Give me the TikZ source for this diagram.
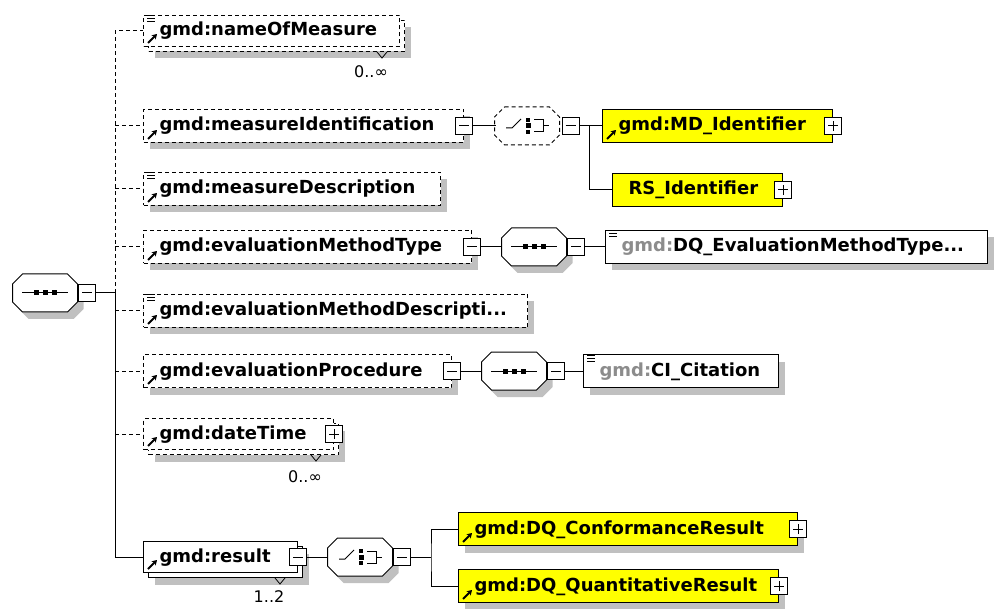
\documentclass[tikz,border=0pt]{standalone}
\usepackage{fontspec}
\setmainfont{DejaVu Sans}
\usepackage{tikz}
\usetikzlibrary{arrows.meta}
\usetikzlibrary{calc}
\usetikzlibrary{shadows}
\definecolor{shadowgray}{RGB}{192,192,192}
\definecolor{typegray}{RGB}{140,140,140}
\definecolor{elemyellow}{RGB}{255,255,0}
\newcommand{\gmdtype}{\textcolor{typegray}{gmd:}}
\newcommand{\refarrow}[1]{\draw[line width=1.8pt, -{Stealth[length=5pt,width=6pt]}] ([shift={(5,-4)}]#1.south west) -- ++(9,-9);}
\newcommand{\texticon}[1]{\foreach \yy in {1,4,7} {\draw[line width=1pt] ([shift={(4,\yy)}]#1.north west) -- ++(8,0);}}
\newcommand{\multnotch}[1]{\draw[line width=0.8pt] ([shift={(-28,0)}]#1.south east) -- ++(5,6) -- ++(5,-6);}
\newcommand{\compoct}[2][]{\draw[fill=white, #1] ([shift={(-22.5,-19)}]#2.center) -- ++(45,0) -- ++(10,10) -- ++(0,18) -- ++(-10,10) -- ++(-45,0) -- ++(-10,-10) -- ++(0,-18) -- cycle;}
\newcommand{\seqmark}[1]{%
    \draw ([shift={(-23,0)}]#1.center) -- ++(46,0);
    \foreach \xx in {-9,0,9} {\fill[black] ([shift={(\xx,0)}]#1.center) +(-2.5,-2.5) rectangle +(2.5,2.5);}}
\newcommand{\choicemark}[1]{%
    \draw ([shift={(-21,2)}]#1.center) -- ++(6,0) -- ++(9,-9);
    \fill[black] ([shift={(1,-6)}]#1.center) +(-2,-2) rectangle +(2,2);
    \fill[black] ([shift={(1,0)}]#1.center) +(-2.5,-2.5) rectangle +(2.5,2.5);
    \fill[black] ([shift={(1,6)}]#1.center) +(-2,-2) rectangle +(2,2);
    \draw ([shift={(7,-6)}]#1.center) -- ++(9,0) -- ++(0,12) -- ++(-9,0);
    \draw ([shift={(16,0)}]#1.center) -- ++(6,0);}

\tikzset{
    elem/.style={draw, fill=white, anchor=west, minimum height=33pt,
        inner xsep=16pt, inner ysep=0pt, text height=14pt, text depth=4pt, align=left,
        font=\fontsize{18pt}{20pt}\selectfont\bfseries},
    optelem/.style={elem, dash pattern=on 4pt off 3pt},
    stacked/.style={minimum height=31pt},
    typebox/.style={elem},
    yellowbox/.style={elem, fill=elemyellow},
    boxshadow/.style={drop shadow={shadow xshift=6pt, shadow yshift=-7pt, fill=shadowgray, opacity=1}},
    optline/.style={dash pattern=on 4pt off 3pt},
    comp/.style={rectangle, minimum width=65pt, minimum height=38pt, inner sep=0pt},
    pmbox/.style={draw, solid, fill=white, minimum size=17pt, inner sep=0pt},
    minusbox/.style={pmbox, path picture={
        \draw ([xshift=-5pt]path picture bounding box.center) -- ([xshift=5pt]path picture bounding box.center);
    }},
    plusbox/.style={pmbox, path picture={
        \draw ([xshift=-5pt]path picture bounding box.center) -- ([xshift=5pt]path picture bounding box.center);
        \draw ([yshift=-5pt]path picture bounding box.center) -- ([yshift=5pt]path picture bounding box.center);
    }},
    mult/.style={font=\fontsize{16pt}{18pt}\selectfont, inner sep=0pt},
}

\begin{document}
\begin{tikzpicture}[x=1pt, y=-1pt, line width=1pt]
    \useasboundingbox (0,0) rectangle (998,609);

    % Draw main sequence
    \node[comp] (seq) at (45,293) {};
    \compoct[boxshadow]{seq}
    \seqmark{seq}
    \node[minusbox, anchor=west] (seqm) at (seq.east) {};
    \coordinate (jn) at (115,293);

    % Draw child elements
    \node[optelem, boxshadow, stacked, text width=224pt] (nomb) at (148,36) {};
    \node[optelem, stacked, text width=224pt] (nom) at (143,31) {gmd:nameOfMeasure};
    \node[optelem, boxshadow, text width=288pt] (mid) at (143,126) {gmd:measureIdentification};
    \node[optelem, boxshadow, text width=265pt] (mdesc) at (143,189) {gmd:measureDescription};
    \node[optelem, boxshadow, text width=296pt] (emt) at (143,247) {gmd:evaluationMethodType};
    \node[optelem, boxshadow, text width=352pt] (emd) at (143,311) {gmd:evaluationMethodDescripti...};
    \node[optelem, boxshadow, text width=276pt] (ep) at (143,371) {gmd:evaluationProcedure};
    \node[optelem, boxshadow, stacked, text width=158pt] (dtb) at (148,439) {};
    \node[optelem, stacked, text width=158pt] (dt) at (143,434) {gmd:dateTime};
    \node[elem, boxshadow, stacked, text width=122pt] (resb) at (148,562) {};
    \node[elem, stacked, text width=122pt] (res) at (143,557) {gmd:result};

    \foreach \n in {nom,mid,mdesc,emt,emd,ep,dt,res} {\refarrow{\n}}
    \foreach \n in {nom,mdesc,emd} {\texticon{\n}}

    % Occurrences
    \multnotch{nomb}
    \multnotch{dtb}
    \multnotch{resb}
    \node[mult] (nomn) at ([shift={(-34,20)}]nomb.south east) {0..∞};
    \node[mult] (dtn) at ([shift={(-34,22)}]dtb.south east) {0..∞};
    \node[mult] (resn) at ([shift={(-34,19)}]resb.south east) {1..2};

    % measureIdentification choice
    \node[minusbox] (mi2) at (mid.east) {};
    \node[comp, minimum width=62pt] (ch2) at ($(mi2)+(63,0)$) {};
    \compoct[dash pattern=on 4pt off 3pt]{ch2}
    \choicemark{ch2}
    \node[minusbox, anchor=west] (chm2) at ([xshift=3pt]ch2.east) {};
    \node[yellowbox, text width=198pt] (md) at (602,126) {gmd:MD\_Identifier};
    \node[yellowbox, text width=138pt] (rs) at (612,190) {RS\_Identifier};
    \node[plusbox] (mdp) at (md.east) {};
    \node[plusbox] (rsp) at (rs.east) {};
    \refarrow{md}
    \coordinate (j2) at ($(chm2.east)+(10,0)$);

    % evaluationMethodType sequence
    \node[minusbox] (mi4) at (emt.east) {};
    \node[comp] (sq4) at ($(mi4)+(62,0)$) {};
    \compoct[boxshadow]{sq4}
    \seqmark{sq4}
    \node[minusbox, anchor=west] (sqm4) at (sq4.east) {};
    \node[typebox, boxshadow, text width=350pt] (dqt) at (605,247) {\gmdtype DQ\_EvaluationMethodType...};
    \texticon{dqt}

    % evaluationProcedure sequence
    \node[minusbox] (mi6) at (ep.east) {};
    \node[comp] (sq6) at ($(mi6)+(62,0)$) {};
    \compoct[boxshadow]{sq6}
    \seqmark{sq6}
    \node[minusbox, anchor=west] (sqm6) at (sq6.east) {};
    \node[typebox, boxshadow, text width=163pt] (cic) at (583,371) {\gmdtype CI\_Citation};
    \texticon{cic}

    \node[plusbox] (dtp) at (dt.east) {};

    % result choice
    \node[minusbox] (mi8) at (res.east) {};
    \node[comp] (ch8) at ($(mi8)+(62,0)$) {};
    \compoct[boxshadow]{ch8}
    \choicemark{ch8}
    \node[minusbox, anchor=west] (chm8) at (ch8.east) {};
    \coordinate (j8) at ($(chm8.east)+(20,0)$);
    \node[yellowbox, boxshadow, text width=307pt] (conf) at (458,529) {gmd:DQ\_ConformanceResult};
    \node[yellowbox, boxshadow, text width=288pt] (quan) at (458,586) {gmd:DQ\_QuantitativeResult};
    \node[plusbox] (confp) at (conf.east) {};
    \node[plusbox] (quanp) at (quan.east) {};
    \refarrow{conf}
    \refarrow{quan}

    % Draw connectors
    \draw (seqm) -- (jn);
    \draw[optline] (jn) |- (nom.west);
    \draw (jn) |- (res.west);
    \foreach \n in {mid,mdesc,emt,emd,ep,dt} {
        \draw[optline] (jn |- \n.west) -- (\n.west);
    }
    \draw (mi2) -- (ch2);
    \draw (chm2) -- (md);
    \draw (j2) |- (rs.west);
    \draw (mi4) -- (sq4);
    \draw (sqm4) -- (dqt);
    \draw (mi6) -- (sq6);
    \draw (sqm6) -- (cic);
    \draw (mi8) -- (ch8);
    \draw (chm8) -- (j8);
    \draw (conf.west) -| (j8) |- (quan.west);
\end{tikzpicture}
\end{document}
